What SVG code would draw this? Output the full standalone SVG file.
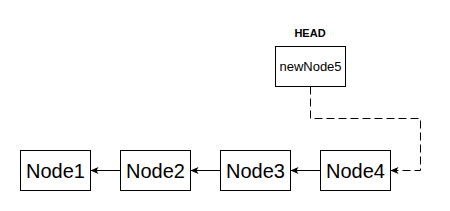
<svg xmlns="http://www.w3.org/2000/svg" width="450" height="211" viewBox="0 0 450 211">
  <style>
    .box { fill: #ffffff; stroke: #000000; stroke-width: 1; }
    .lbl { font-family: "Liberation Sans", Arial, sans-serif; font-size: 20px; fill: #000000; text-anchor: middle; }
    .small { font-family: "Liberation Sans", Arial, sans-serif; font-size: 13px; fill: #000000; text-anchor: middle; }
    .head { font-family: "Liberation Sans", Arial, sans-serif; font-size: 11px; font-weight: bold; fill: #000000; text-anchor: middle; }
    .edge { fill: none; stroke: #000000; stroke-width: 1; }
    .dash { stroke-dasharray: 8 4; }
  </style>
  <defs>
    <marker id="arrow" viewBox="0 0 8 8" refX="8" refY="4" markerWidth="8" markerHeight="8" markerUnits="userSpaceOnUse" orient="auto">
      <path d="M8,4 L0,0.5 L2,4 L0,7.5 Z" fill="#000000" stroke="none"/>
    </marker>
  </defs>
  <rect width="450" height="211" fill="#ffffff"/>
  <g id="connectors">
    <path class="edge" d="M120,170.5 L90.5,170.5" marker-end="url(#arrow)"/>
    <path class="edge" d="M220,170.5 L190.5,170.5" marker-end="url(#arrow)"/>
    <path class="edge" d="M320,170.5 L290.5,170.5" marker-end="url(#arrow)"/>
    <path class="edge dash" d="M310.5,86.5 L310.5,118.5 L420.5,118.5 L420.5,170.5 L390.5,170.5" marker-end="url(#arrow)"/>
  </g>
  <g id="head-label">
    <text class="head" x="310" y="37">HEAD</text>
  </g>
  <g id="newNode5">
    <rect class="box" x="275.5" y="46.5" width="70" height="40"/>
    <text class="small" x="310.5" y="71">newNode5</text>
  </g>
  <g id="node1">
    <rect class="box" x="20.5" y="150.5" width="70" height="40"/>
    <text class="lbl" x="55.5" y="178">Node1</text>
  </g>
  <g id="node2">
    <rect class="box" x="120.5" y="150.5" width="70" height="40"/>
    <text class="lbl" x="155.5" y="178">Node2</text>
  </g>
  <g id="node3">
    <rect class="box" x="220.5" y="150.5" width="70" height="40"/>
    <text class="lbl" x="255.5" y="178">Node3</text>
  </g>
  <g id="node4">
    <rect class="box" x="320.5" y="150.5" width="70" height="40"/>
    <text class="lbl" x="355.5" y="178">Node4</text>
  </g>
</svg>
